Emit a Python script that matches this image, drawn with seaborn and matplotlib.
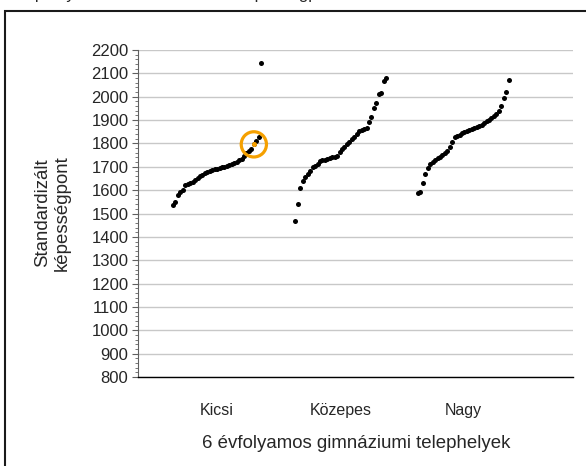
import matplotlib
matplotlib.use('Agg')
import matplotlib.pyplot as plt
import seaborn as sns
import pandas as pd
from matplotlib.patches import Rectangle
from matplotlib.ticker import MultipleLocator

# Sorted standardized scores per site-size category
groups = ['Kicsi', 'Közepes', 'Nagy']
kicsi = [1536, 1548, 1580, 1594, 1602, 1622, 1628, 1632, 1636, 1645, 1652, 1659, 1666,
         1673, 1679, 1684, 1688, 1690, 1692, 1694, 1697, 1700, 1703, 1707, 1711, 1715,
         1720, 1727, 1733, 1745, 1760, 1768, 1778, 1796, 1812, 1826, 2143]
kozepes = [1468, 1541, 1610, 1640, 1655, 1668, 1682, 1697, 1702, 1712, 1725, 1728, 1731,
           1734, 1737, 1740, 1744, 1748, 1762, 1776, 1786, 1797, 1808, 1818, 1828, 1840,
           1852, 1857, 1861, 1868, 1890, 1915, 1950, 1974, 2012, 2018, 2068, 2080]
nagy = [1586, 1590, 1632, 1670, 1694, 1710, 1720, 1729, 1736, 1744, 1751, 1758, 1768,
        1785, 1806, 1826, 1832, 1838, 1843, 1849, 1854, 1858, 1862, 1866, 1870, 1874,
        1877, 1886, 1898, 1902, 1910, 1916, 1926, 1940, 1962, 1993, 2019, 2072]
highlight_group = 'Kicsi'
highlight_rank = 33
yticks = list(range(800, 2300, 100))

# build long table, x = group slot + rank within group
rows = []
for g, (name, vals) in enumerate(zip(groups, [kicsi, kozepes, nagy])):
    for r, v in enumerate(vals):
        rows.append({'group': name, 'rank': r, 'x': g * 50 + r, 'pont': v})
df = pd.DataFrame(rows)
centers = [g * 50 + (len(v) - 1) / 2 for g, v in enumerate([kicsi, kozepes, nagy])]

sns.set_style('white')
plt.rcParams['font.family'] = ['Liberation Sans', 'DejaVu Sans']

W, H = 586, 466
fig = plt.figure(figsize=(W / 100, H / 100), dpi=100)
ax = fig.add_axes([137.5 / W, 1 - 377 / H, (573 - 137.5) / W, (377 - 50) / H])

sns.scatterplot(data=df, x='x', y='pont', color='black', s=13, linewidth=0,
                ax=ax, legend=False, zorder=3)

hl = df[(df.group == highlight_group) & (df['rank'] == highlight_rank)]
ax.scatter(hl.x, hl.pont, s=13, color='#f5a000', linewidths=0, zorder=4)
ax.scatter(hl.x, hl.pont, s=330, facecolors='none', edgecolors='#f5a000',
           linewidths=2.3, zorder=4)

ax.set_ylim(800, 2200)
ax.set_xlim(-14.5, 163.3)
ax.set_yticks(yticks)
ax.yaxis.set_minor_locator(MultipleLocator(20))
ax.grid(axis='y', which='major', color='#c8c8c8', lw=1)
ax.set_axisbelow(True)

for s in ['top', 'right']:
    ax.spines[s].set_visible(False)
ax.spines['left'].set_color('#606060')
ax.spines['left'].set_linewidth(0.8)
ax.spines['bottom'].set_color('black')
ax.spines['bottom'].set_linewidth(1.0)

ax.tick_params(axis='y', which='major', direction='out', length=4, width=0.8,
               color='#606060', labelsize=12, pad=2.5, left=True)
ax.tick_params(axis='y', which='minor', direction='out', length=2.5, width=0.6,
               color='#606060', left=True)
ax.set_xticks(centers)
ax.set_xticklabels(groups)
ax.tick_params(axis='x', length=0, labelsize=11.5, pad=19)
ax.set_xlabel('')
ax.set_ylabel('')

fig.text(52 / W, 1 - 213 / H, 'Standardizált\nképességpont', rotation=90,
         ha='center', va='center', multialignment='center', fontsize=13.4)
fig.text(356 / W, 1 - 448 / H, '6 évfolyamos gimnáziumi telephelyek',
         ha='center', va='baseline', fontsize=13.4)

# caption line above the frame, cut off by the image edge (only descenders show)
fig.text(8 / W, 1 + 0.5 / H, 'telephelyeinek számában és a képességpontok alakulása',
         ha='left', va='baseline', fontsize=12)

fig.patches.append(Rectangle((4.5 / W, -0.05), 1.2, (H - 10.5) / H + 0.05,
                             transform=fig.transFigure, fill=False,
                             ec='#1a1a1a', lw=1.5))

fig.savefig('out.png', dpi=100)
